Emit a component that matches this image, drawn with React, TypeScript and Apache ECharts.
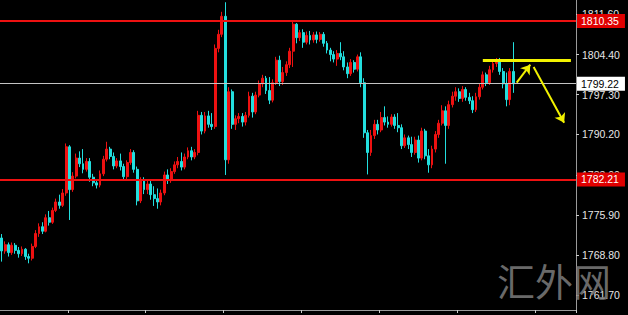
import React, { useEffect, useRef } from "react";
import * as echarts from "echarts";

// OHLC candles: [open, close, low, high]
const ohlc: number[][] = [
  [1771.8,1769.5,1767.6,1772.5],[1769.5,1770.6,1769.0,1771.2],[1770.6,1769.2,1768.5,1771.0],[1769.2,1770.5,1768.8,1771.0],
  [1770.5,1769.6,1769.0,1770.9],[1769.6,1769.0,1768.3,1770.2],[1769.0,1769.8,1768.6,1770.3],[1769.8,1768.5,1767.9,1770.0],
  [1768.5,1768.2,1767.3,1769.0],[1768.2,1770.3,1767.8,1770.8],[1770.3,1772.6,1770.0,1773.2],[1772.6,1773.8,1772.0,1774.4],
  [1773.8,1773.0,1772.5,1774.6],[1773.0,1775.4,1772.8,1776.0],[1775.4,1774.6,1774.0,1776.6],[1774.6,1776.7,1774.3,1777.2],
  [1776.7,1778.2,1776.4,1778.8],[1778.2,1777.6,1777.0,1779.5],[1777.6,1779.8,1777.3,1780.5],[1779.8,1788.0,1779.3,1788.6],
  [1788.0,1780.4,1775.0,1788.3],[1780.4,1782.8,1780.0,1783.5],[1782.8,1786.0,1782.4,1786.8],[1786.0,1785.0,1784.4,1787.2],
  [1785.0,1784.0,1783.3,1787.6],[1784.0,1785.4,1783.6,1786.0],[1785.4,1782.6,1781.8,1786.0],[1782.6,1781.6,1781.0,1783.2],
  [1781.6,1781.2,1780.6,1782.2],[1781.2,1783.2,1780.8,1783.8],[1783.2,1785.8,1782.8,1786.4],[1785.8,1787.6,1785.4,1788.9],
  [1787.6,1786.3,1785.8,1788.0],[1786.3,1784.6,1784.0,1787.0],[1784.6,1785.5,1784.2,1786.0],[1785.5,1784.5,1783.8,1786.8],
  [1784.5,1782.7,1782.0,1785.0],[1782.7,1785.2,1782.2,1785.6],[1785.2,1787.0,1784.8,1787.6],[1787.0,1784.0,1783.4,1787.4],
  [1784.0,1778.4,1777.6,1784.5],[1778.4,1782.0,1778.0,1782.6],[1782.0,1780.4,1779.6,1782.6],[1780.4,1781.4,1779.6,1782.0],
  [1781.4,1779.5,1778.6,1782.0],[1779.5,1778.8,1777.5,1781.0],[1778.8,1778.2,1777.0,1780.6],[1778.2,1779.8,1777.6,1780.4],
  [1779.8,1783.0,1779.4,1783.6],[1783.0,1782.0,1781.4,1784.0],[1782.0,1783.6,1781.6,1784.2],[1783.6,1784.8,1783.2,1785.4],
  [1784.8,1785.4,1784.2,1786.2],[1785.4,1784.4,1783.8,1787.0],[1784.4,1786.2,1784.0,1786.8],[1786.2,1787.3,1785.8,1787.9],
  [1787.3,1786.2,1785.6,1788.0],[1786.2,1787.0,1785.8,1787.6],[1787.0,1793.6,1786.5,1794.4],[1793.6,1790.8,1790.2,1794.2],
  [1790.8,1793.5,1790.4,1794.2],[1793.5,1792.0,1791.4,1794.4],[1792.0,1791.6,1791.0,1794.0],[1791.6,1805.5,1791.2,1806.2],
  [1805.5,1808.0,1804.8,1808.8],[1808.0,1811.2,1807.5,1812.0],[1811.2,1785.7,1783.0,1813.7],[1785.7,1797.8,1785.0,1798.6],
  [1797.8,1792.0,1791.2,1798.2],[1792.0,1793.0,1791.0,1793.6],[1793.0,1793.4,1792.2,1794.0],[1793.4,1792.4,1791.6,1794.0],
  [1792.4,1793.6,1791.8,1794.2],[1793.6,1797.0,1793.2,1797.8],[1797.0,1794.2,1793.2,1797.6],[1794.2,1797.2,1793.8,1797.8],
  [1797.2,1799.2,1796.8,1799.8],[1799.2,1800.2,1798.6,1800.8],[1800.2,1798.0,1797.4,1800.6],[1798.0,1796.3,1795.6,1800.4],
  [1796.3,1799.4,1795.9,1800.0],[1799.4,1803.4,1799.0,1804.0],[1803.4,1799.6,1798.8,1804.2],[1799.6,1801.2,1799.0,1802.2],
  [1801.2,1802.6,1800.6,1803.2],[1802.6,1805.0,1802.0,1805.6],[1805.0,1809.8,1802.2,1810.4],[1809.8,1807.4,1806.4,1810.0],
  [1807.4,1808.3,1806.8,1808.8],[1808.3,1806.6,1805.6,1808.9],[1806.6,1807.8,1806.2,1808.5],[1807.8,1807.0,1806.2,1808.6],
  [1807.0,1807.9,1806.5,1808.4],[1807.9,1807.1,1806.4,1808.5],[1807.1,1808.0,1806.7,1808.4],[1808.0,1806.4,1805.8,1808.4],
  [1806.4,1805.2,1804.6,1806.8],[1805.2,1804.4,1803.2,1805.6],[1804.4,1803.6,1803.0,1805.0],[1803.6,1804.6,1802.4,1805.2],
  [1804.6,1804.0,1803.4,1806.6],[1804.0,1802.2,1801.6,1805.0],[1802.2,1801.0,1800.2,1803.0],[1801.0,1803.0,1800.6,1803.6],
  [1803.0,1801.8,1801.2,1803.4],[1801.8,1804.0,1801.4,1804.4],[1804.0,1799.4,1798.6,1804.8],[1799.4,1790.5,1789.6,1800.2],
  [1790.5,1787.0,1783.1,1791.0],[1787.0,1790.0,1786.4,1791.0],[1790.0,1792.0,1789.4,1792.8],[1792.0,1791.0,1790.2,1792.8],
  [1791.0,1793.2,1790.6,1794.2],[1793.2,1792.4,1791.8,1795.2],[1792.4,1792.0,1791.4,1793.4],[1792.0,1793.3,1791.6,1793.8],
  [1793.3,1791.8,1791.2,1793.8],[1791.8,1791.4,1790.6,1794.0],[1791.4,1788.2,1787.6,1792.0],[1788.2,1789.6,1787.8,1790.2],
  [1789.6,1788.4,1787.6,1790.0],[1788.4,1787.0,1786.2,1789.8],[1787.0,1789.2,1786.6,1789.8],[1789.2,1786.0,1785.2,1790.0],
  [1786.0,1790.8,1785.6,1791.4],[1790.8,1786.4,1785.8,1791.2],[1786.4,1784.8,1783.4,1787.6],[1784.8,1787.6,1784.2,1788.2],
  [1787.6,1790.2,1787.0,1790.8],[1790.2,1792.2,1789.6,1792.8],[1792.2,1794.4,1791.8,1795.4],[1794.4,1791.8,1785.0,1795.2],
  [1791.8,1795.5,1791.2,1796.2],[1795.5,1797.0,1795.0,1797.8],[1797.0,1797.8,1796.2,1798.6],[1797.8,1796.6,1796.0,1798.4],
  [1796.6,1798.2,1796.0,1798.8],[1798.2,1796.8,1796.2,1798.6],[1796.8,1796.2,1795.6,1797.6],[1796.2,1794.6,1794.0,1797.0],
  [1794.6,1796.9,1794.2,1797.6],[1796.9,1798.6,1796.4,1799.2],[1798.6,1800.8,1798.2,1801.4],[1800.8,1799.4,1798.8,1801.2],
  [1799.4,1801.7,1799.0,1802.4],[1801.7,1802.8,1801.2,1803.2],[1802.8,1803.4,1802.2,1803.8],[1803.4,1801.4,1800.8,1803.8],
  [1801.4,1799.2,1798.4,1802.0],[1799.2,1796.4,1795.2,1801.2],[1796.4,1801.4,1795.4,1802.0],[1801.4,1799.22,1797.6,1806.6],
];

const TOTAL_SLOTS = 170;
const categories = Array.from({ length: TOTAL_SLOTS }, (_, i) => String(i));

const priceTicks = [1761.7, 1768.8, 1775.9, 1783.0, 1790.2, 1797.3, 1804.4, 1811.6];
const yMin = 1759.0;
const yMax = 1814.1;

const resistance = 1810.35;
const support = 1782.21;
const bid = 1799.22;

// yellow annotation: horizontal level and two arrows ([categoryIndex, price])
const yellowLevel = { from: 142, to: 168, price: 1803.4 };
const arrowUp = [[152, 1799.4], [156, 1802.6]];
const arrowDown = [[157, 1802.2], [166, 1792.3]];

const RED = "#ee1111";
const CYAN = "#22dede";
const YELLOW = "#f2f200";

export default function App() {
  const ref = useRef<HTMLDivElement>(null);
  useEffect(() => {
    if (!ref.current) return;
    const chart = echarts.init(ref.current, undefined, { renderer: "svg" });
    const levelLabel = (bg: string, fg: string, txt: string) => ({
      show: true,
      position: "end",
      distance: 1,
      formatter: txt,
      backgroundColor: bg,
      color: fg,
      fontFamily: "Liberation Sans",
      fontSize: 10.5,
      padding: [2, 6, 1, 4],
    });
    chart.setOption({
      animation: false,
      backgroundColor: "#000000",
      grid: { left: 0, right: 52, top: 0, bottom: 5 },
      xAxis: {
        type: "category",
        data: categories,
        boundaryGap: true,
        axisLine: { show: true, lineStyle: { color: "#9a9a9a", width: 1 } },
        axisTick: {
          show: true,
          length: 3,
          interval: (i: number) => i >= 20 && (i - 20) % 23 === 0,
          lineStyle: { color: "#cccccc" },
        },
        axisLabel: { show: false },
        splitLine: { show: false },
      },
      yAxis: {
        type: "value",
        position: "right",
        min: yMin,
        max: yMax,
        splitLine: { show: false },
        axisLine: { show: true, lineStyle: { color: "#9a9a9a" } },
        axisTick: { show: true, length: 3, customValues: priceTicks, lineStyle: { color: "#cccccc" } },
        axisLabel: {
          customValues: priceTicks,
          formatter: (v: number) => v.toFixed(2),
          color: "#e6e6e6",
          fontFamily: "Liberation Sans",
          fontSize: 10.5,
          margin: 6,
        },
      },
      graphic: [
        {
          type: "text",
          left: 497,
          top: 260,
          z: 100,
          style: {
            text: "汇外网",
            font: '38px "Noto Sans CJK SC"',
            fill: "rgba(125,125,125,0.85)",
          },
        },
      ],
      series: [
        {
          type: "candlestick",
          data: ohlc,
          barWidth: 2.4,
          itemStyle: {
            color: RED,
            color0: CYAN,
            borderColor: RED,
            borderColor0: CYAN,
            borderWidth: 1,
          },
          markLine: {
            silent: true,
            symbol: ["none", "none"],
            data: [
              { yAxis: resistance, lineStyle: { color: RED, width: 2, type: "solid" }, label: levelLabel("#e00000", "#ffffff", resistance.toFixed(2)) },
              { yAxis: support, lineStyle: { color: RED, width: 2, type: "solid" }, label: levelLabel("#e00000", "#ffffff", support.toFixed(2)) },
              { yAxis: bid, lineStyle: { color: "#c4c4c4", width: 1, type: "solid" }, label: levelLabel("#ffffff", "#000000", bid.toFixed(2)) },
              [
                { coord: [String(yellowLevel.from), yellowLevel.price], lineStyle: { color: YELLOW, width: 3, type: "solid" }, label: { show: false } },
                { coord: [String(yellowLevel.to), yellowLevel.price] },
              ],
              [
                { coord: [String(arrowUp[0][0]), arrowUp[0][1]], symbol: "none", lineStyle: { color: YELLOW, width: 2, type: "solid" }, label: { show: false } },
                { coord: [String(arrowUp[1][0]), arrowUp[1][1]], symbol: "arrow", symbolSize: 9, itemStyle: { color: YELLOW } },
              ],
              [
                { coord: [String(arrowDown[0][0]), arrowDown[0][1]], symbol: "none", lineStyle: { color: YELLOW, width: 2, type: "solid" }, label: { show: false } },
                { coord: [String(arrowDown[1][0]), arrowDown[1][1]], symbol: "arrow", symbolSize: 9, itemStyle: { color: YELLOW } },
              ],
            ],
          },
        },
      ],
    });
    return () => chart.dispose();
  }, []);
  return (
    <div
      ref={ref}
      style={{ position: "fixed", left: 0, top: 0, width: 628, height: 315, background: "#000" }}
    />
  );
}
